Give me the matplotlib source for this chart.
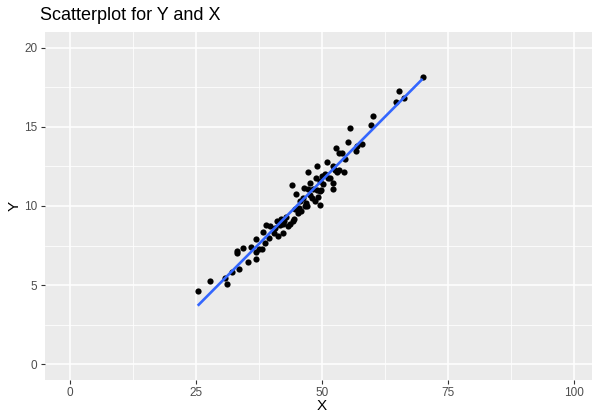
import numpy as np
import matplotlib
matplotlib.use("Agg")
import matplotlib.pyplot as plt

plt.rcParams['font.family'] = ['Liberation Sans', 'DejaVu Sans']

# observations
x_vals = [25.4, 27.8, 30.9, 31.3, 32.1, 33.5, 33.1, 33.2, 34.4, 35.3,
          36.0, 37.0, 36.9, 37.0, 37.6, 38.2, 38.4, 38.7, 39.0, 39.8,
          40.5, 41.1, 41.4, 41.9, 41.7, 42.3, 42.4, 42.6, 43.4, 43.7,
          44.2, 44.5, 44.7, 45.2, 45.8, 44.1, 44.8, 46.5, 46.3, 46.9,
          47.0, 47.3, 47.7, 47.3, 48.0, 48.3, 48.9, 49.1, 49.2, 49.6,
          49.6, 50.0, 49.9, 51.0, 51.3, 52.2, 52.2, 52.3, 52.8, 53.0,
          53.4, 53.5, 54.0, 54.4, 54.6, 55.2, 55.6, 56.7, 57.0, 57.9,
          59.8, 60.1, 64.7, 65.3, 66.4, 70.0,
          45.7, 46.7, 48.6, 45.5, 49.0, 50.3, 43.0, 40.7, 39.5, 50.7,
          51.7, 52.7, 47.6, 49.7]
y_vals = [4.64, 5.27, 5.42, 5.08, 5.84, 6.03, 7.17, 7.04, 7.34, 6.44,
          7.39, 7.89, 6.66, 7.11, 7.26, 7.30, 8.34, 7.64, 8.78, 8.73,
          8.27, 9.03, 8.10, 9.20, 8.82, 8.27, 8.86, 9.05, 8.75, 8.86,
          9.05, 9.16, 9.81, 9.56, 9.66, 11.31, 10.74, 11.14, 10.51, 10.21,
          10.02, 11.06, 11.46, 12.15, 10.51, 11.06, 11.75, 12.51, 10.55, 10.04,
          10.95, 11.90, 11.01, 12.78, 11.77, 11.46, 11.06, 12.51, 13.65, 12.13,
          13.34, 12.28, 13.34, 12.15, 12.99, 14.07, 14.94, 13.50, 13.78, 13.91,
          15.13, 15.70, 16.58, 17.30, 16.85, 18.16,
          10.3, 10.0, 10.3, 9.9, 11.0, 11.4, 9.3, 8.6, 8.0, 12.0,
          11.8, 12.3, 10.7, 11.6]

x_ticks = [0, 25, 50, 75, 100]
y_ticks = [0, 5, 10, 15, 20]

fig = plt.figure(figsize=(5.92, 4.16), dpi=100)
W, H = 592, 416
left, right, top, bottom = 44.5, 599, 32, 380
ax = fig.add_axes([left / W, 1 - bottom / H, (right - left) / W, (bottom - top) / H])
ax.set_facecolor('#EBEBEB')
for s in ax.spines.values():
    s.set_visible(False)

ax.set_xlim(-5, 105)
ax.set_ylim(-1, 21)
ax.set_xticks(x_ticks)
ax.set_yticks(y_ticks)
ax.set_xticks([12.5, 37.5, 62.5, 87.5], minor=True)
ax.set_yticks([2.5, 7.5, 12.5, 17.5], minor=True)
ax.grid(which='major', color='white', linewidth=1.1)
ax.grid(which='minor', color='white', linewidth=0.55)
ax.set_axisbelow(True)
ax.tick_params(which='major', length=3, width=0.8, color='#333333',
               labelsize=8.5, labelcolor='#4D4D4D', pad=2)
ax.tick_params(which='minor', length=0)

ax.scatter(x_vals, y_vals, s=20, color='black', linewidths=0, zorder=3)

# least-squares fit line over the observed X range
slope, intercept = np.polyfit(x_vals, y_vals, 1)
fit_x = np.linspace(min(x_vals), max(x_vals), 60)
ax.plot(fit_x, intercept + slope * fit_x, color='#3366FF', linewidth=1.9,
        zorder=4, solid_capstyle='butt')

ax.set_xlabel('X', fontsize=11, labelpad=0)
ax.set_ylabel('Y', fontsize=11, labelpad=2)
fig.text(40 / W, 1 - 15 / H, 'Scatterplot for Y and X', fontsize=13,
         ha='left', va='center')

fig.savefig('out.png', dpi=100)
